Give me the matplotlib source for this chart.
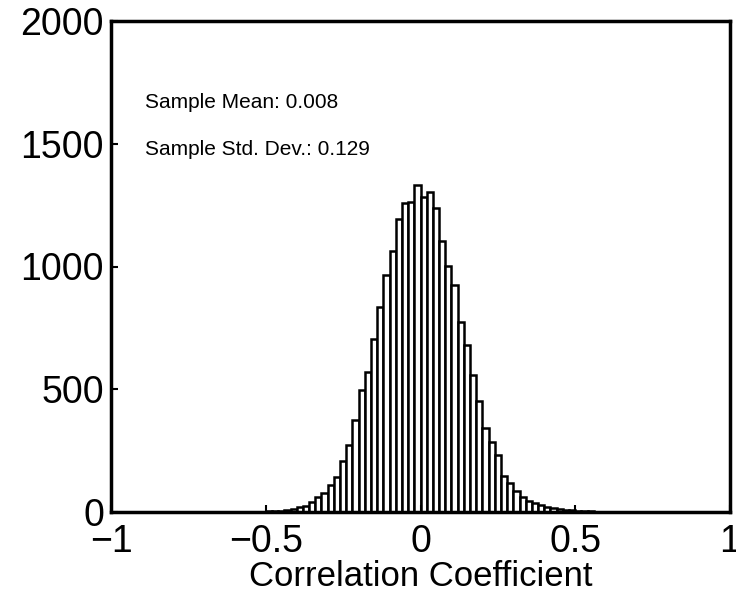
import numpy as np
import matplotlib
matplotlib.use('Agg')
import matplotlib.pyplot as plt

# histogram: 100 bins spanning -1..1, counts
bin_lo = -1.0
bin_hi = 1.0
n_bins = 100

# counts for bins 22..81 (all others are ~0)
first_bin = 22
counts_mid = [1, 1, 2, 3, 4, 6, 9, 14, 19, 26,
              40, 62, 79, 109, 142, 207, 273, 374, 496, 571,
              703, 837, 967, 1063, 1194, 1259, 1262, 1330, 1283, 1303,
              1238, 1105, 1003, 923, 773, 682, 558, 454, 343, 284,
              234, 148, 120, 87, 60, 45, 35, 28, 22, 18,
              14, 10, 8, 6, 4, 3, 2, 1, 1, 1]

xticks = [-1, -0.5, 0, 0.5, 1]
xtick_labels = ['\u22121', '\u22120.5', '0', '0.5', '1']
yticks = [0, 500, 1000, 1500, 2000]

sample_mean = 0.008
sample_std = 0.129

counts = np.zeros(n_bins)
counts[first_bin:first_bin + len(counts_mid)] = counts_mid
edges = np.linspace(bin_lo, bin_hi, n_bins + 1)

plt.rcParams['font.family'] = ['Liberation Sans', 'DejaVu Sans']

fig = plt.figure(figsize=(7.36, 6.08), dpi=100)
ax = fig.add_axes([111 / 736, (608 - 512) / 608, (730 - 111) / 736, (512 - 21) / 608])

ax.bar(edges[:-1], counts, width=np.diff(edges), align='edge',
       facecolor='white', edgecolor='black', linewidth=1.8)

ax.set_xlim(-1, 1)
ax.set_ylim(0, 2000)
ax.set_xticks(xticks)
ax.set_xticklabels(xtick_labels)
ax.set_yticks(yticks)
ax.tick_params(direction='in', length=5, width=1.5, labelsize=27)
ax.tick_params(axis='x', pad=9)
ax.tick_params(axis='y', pad=5)

for s in ax.spines.values():
    s.set_linewidth(2.5)

ax.set_xlabel('Correlation Coefficient', fontsize=25, labelpad=0)

ax.text(0.055, 0.835, 'Sample Mean: %.3f' % sample_mean, transform=ax.transAxes,
        fontsize=15, va='center', ha='left')
ax.text(0.055, 0.739, 'Sample Std. Dev.: %.3f' % sample_std, transform=ax.transAxes,
        fontsize=15, va='center', ha='left')

fig.savefig('out.png', dpi=100)
